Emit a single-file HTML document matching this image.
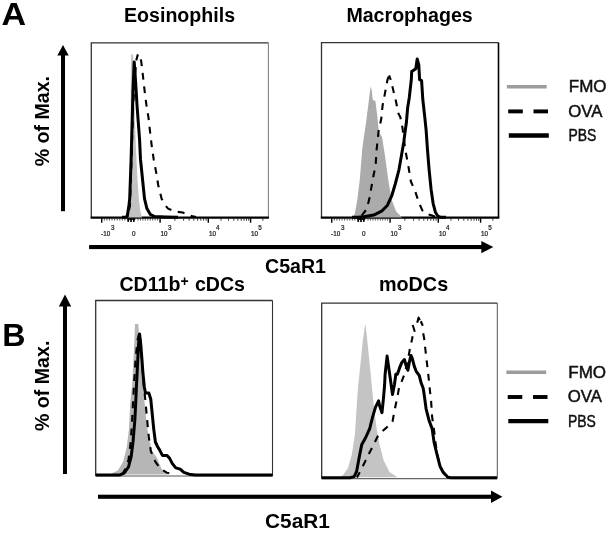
<!DOCTYPE html>
<html><head><meta charset="utf-8"><title>Figure</title>
<style>html,body{margin:0;padding:0;background:#fff;}svg{display:block;will-change:transform;filter:blur(0.4px);}</style></head>
<body>
<svg width="606" height="533" viewBox="0 0 606 533" font-family="Liberation Sans, sans-serif">
<rect width="606" height="533" fill="#fff"/>
<path d="M91.3,217.5 L91.3,42.8 L268.4,42.8" fill="none" stroke="#333" stroke-width="1.3"/><line x1="268.4" y1="42.8" x2="268.4" y2="217.5" stroke="#777" stroke-width="1.0"/>
<path d="M321.5,217.5 L321.5,42.6 L498.5,42.6" fill="none" stroke="#333" stroke-width="1.3"/><line x1="498.5" y1="42.6" x2="498.5" y2="217.5" stroke="#000" stroke-width="1.6"/>
<path d="M95.7,476 L95.7,300.5 L272.5,300.5" fill="none" stroke="#333" stroke-width="1.3"/><line x1="272.5" y1="300.5" x2="272.5" y2="476" stroke="#333" stroke-width="1.1"/>
<line x1="95.7" y1="476" x2="272.5" y2="476" stroke="#555" stroke-width="1.1"/>
<path d="M321.7,478.6 L321.7,303.2 L497.3,303.2" fill="none" stroke="#333" stroke-width="1.3"/><line x1="497.3" y1="303.2" x2="497.3" y2="478.6" stroke="#555" stroke-width="1.0"/>
<line x1="321.7" y1="478.6" x2="497.3" y2="478.6" stroke="#666" stroke-width="1.1"/>
<line x1="90.6" y1="217.65" x2="268.9" y2="217.65" stroke="#000" stroke-width="2.2"/><line x1="320.8" y1="217.65" x2="499.3" y2="217.65" stroke="#000" stroke-width="2.2"/>
<polygon points="127.5,217.5 129.5,205.0 130.5,180.0 130.8,140.0 130.7,100.0 130.9,70.0 131.2,54.5 133.0,54.5 133.2,60.0 133.5,80.0 134.5,110.0 136.0,150.0 137.5,180.0 139.0,200.0 140.5,212.0 142.0,217.5" fill="#c2c2c2"/>
<polyline points="128.0,217.0 130.0,205.0 131.5,160.0 133.0,110.0 135.0,75.0 136.5,59.4 137.9,54.4" fill="none" stroke="#000" stroke-width="2.1" stroke-dasharray="6.9 6.7" stroke-dashoffset="6.36" stroke-linejoin="round"/>
<polyline points="137.9,54.4 139.5,56.0 141.2,61.1 142.9,75.5 144.6,90.7 146.3,104.2 148.5,117.7 149.7,128.7 151.7,145.6 153.7,159.4 156.3,173.1 158.2,185.0 161.6,198.7 165.0,205.0 168.1,208.6 175.0,211.5 182.8,212.5 188.0,214.5 191.7,216.0 196.0,217.0" fill="none" stroke="#000" stroke-width="2.1" stroke-dasharray="6.9 6.7" stroke-dashoffset="7.78" stroke-linejoin="round"/>
<polyline points="122.0,217.3 125.5,217.2 127.3,216.0 129.0,205.0 129.7,198.7 131.1,159.4 132.2,120.0 133.0,90.0 134.2,62.0 135.5,80.0 137.0,105.0 138.1,120.0 139.6,140.0 140.5,159.4 142.5,179.0 144.5,198.7 146.9,208.6 150.2,214.3 154.5,216.5 166.0,216.9 178.0,217.3" fill="none" stroke="#000" stroke-width="3.0" stroke-linejoin="round"/>

<polygon points="352.9,217.5 354.9,213.2 357.4,199.3 359.8,179.5 362.2,149.8 363.4,139.9 365.7,125.2 367.7,109.4 369.7,93.6 370.7,86.6 371.7,90.0 372.7,99.5 374.0,100.5 375.4,101.0 376.3,108.0 377.2,115.3 378.6,129.2 379.5,133.0 382.0,137.0 385.0,155.7 388.2,179.5 391.5,199.3 396.0,211.2 402.0,217.5" fill="#ababab"/>
<polyline points="360.0,217.5 362.8,214.2 366.7,209.2 369.7,197.3 372.7,179.5 375.6,165.6 376.6,149.8 378.6,131.0 381.2,119.3 382.6,105.4 385.1,92.6 387.5,79.7 389.1,75.3" fill="none" stroke="#000" stroke-width="2.1" stroke-dasharray="6.9 6.7" stroke-dashoffset="11.14" stroke-linejoin="round"/>
<polyline points="389.1,75.3 391.1,80.7 393.1,89.6 396.0,101.5 398.4,113.4 400.4,117.3 402.5,128.0 404.0,140.0 405.3,149.8 408.3,165.6 410.9,181.5 415.2,191.4 419.2,203.3 422.2,210.2 427.1,214.2 432.1,215.5 436.0,217.0" fill="none" stroke="#000" stroke-width="2.1" stroke-dasharray="6.9 6.7" stroke-dashoffset="2.13" stroke-linejoin="round"/>
<polyline points="352.0,217.3 358.0,217.2 363.8,216.8 373.7,215.1 381.6,211.2 387.5,205.2 391.9,195.3 395.4,183.5 399.0,169.6 401.4,155.7 403.8,141.9 405.3,130.0 406.3,123.3 407.7,107.4 409.3,97.5 411.3,79.7 411.7,71.4 415.8,68.8 417.2,58.9 418.8,64.9 419.6,79.7 421.6,80.7 422.8,99.5 424.8,117.3 426.1,130.0 427.5,149.8 429.1,169.6 431.1,189.4 433.1,203.3 435.4,212.2 438.0,216.2 441.0,217.3 446.0,217.3" fill="none" stroke="#000" stroke-width="3.0" stroke-linejoin="round"/>

<polygon points="105.0,474.5 110.7,474.1 117.8,470.6 123.2,461.6 126.7,447.4 128.9,429.6 130.3,402.8 132.1,385.0 133.5,360.0 134.8,330.0 135.0,324.1 138.3,324.1 139.0,335.0 141.0,360.0 143.0,385.0 144.6,402.8 146.3,420.7 148.5,436.7 152.0,451.0 157.0,458.0 161.5,468.8 166.0,473.2 170.0,474.5" fill="#b6b6b6"/>
<polyline points="122.0,474.5 126.0,468.0 128.5,459.9 130.7,442.0 132.1,420.7 133.0,402.8 134.0,385.0 135.5,360.0 137.5,340.0 139.2,333.0 140.5,340.0 142.0,360.0 143.8,385.0 145.6,402.8 147.2,420.7 148.8,436.7 150.8,451.0 155.3,461.6 160.6,468.8 166.8,472.7 174.9,473.8" fill="none" stroke="#000" stroke-width="2.1" stroke-dasharray="6.9 6.7" stroke-dashoffset="0.00" stroke-linejoin="round"/>
<polyline points="95.7,474.9 120.0,474.9 124.1,473.2 128.5,467.0 131.2,456.3 133.0,442.0 134.8,420.7 135.7,402.8 136.5,385.0 137.5,365.0 138.5,345.0 139.6,333.9 140.8,345.0 142.0,360.0 142.8,371.3 144.3,387.0 145.5,393.0 148.8,393.0 150.8,399.3 152.0,411.7 153.8,429.6 155.4,442.0 157.5,446.5 159.7,450.1 162.4,455.4 166.8,455.4 169.5,458.1 172.2,463.4 175.8,467.9 180.2,469.1 183.8,472.3 189.1,474.2 195.0,474.9 272.5,474.9" fill="none" stroke="#000" stroke-width="3.0" stroke-linejoin="round"/>

<polygon points="340.0,477.2 343.0,475.1 347.9,468.2 351.9,454.3 354.9,434.5 356.8,404.8 358.2,385.0 358.8,380.2 360.8,360.4 362.8,340.6 365.3,323.2 366.7,334.7 368.7,354.5 370.7,374.3 371.7,385.0 373.7,404.8 376.6,428.6 379.6,444.4 383.6,460.2 389.5,472.1 397.4,477.2" fill="#c4c4c4"/>
<polyline points="357.0,477.5 359.8,472.1 364.8,462.2 369.7,452.3 374.7,442.4 378.6,434.5 386.5,427.6 392.5,421.6 394.5,410.7 397.4,396.9 399.0,388.0 401.4,382.2 404.4,374.3 407.0,364.0 408.9,354.5 410.3,346.6 412.0,339.5 412.6,336.3" fill="none" stroke="#000" stroke-width="2.1" stroke-dasharray="6.9 6.7" stroke-dashoffset="0.97" stroke-linejoin="round"/>
<polyline points="423.2,333.3 424.2,338.7 425.5,350.5 427.1,364.4 428.7,378.3 430.1,392.1 431.1,400.8 432.1,416.7 434.1,430.5 436.0,446.4 438.0,458.0 441.0,468.0 445.0,475.0" fill="none" stroke="#000" stroke-width="2.1" stroke-dasharray="6.9 6.7" stroke-dashoffset="0.00" stroke-linejoin="round"/>
<polyline points="412.7,325.0 414.8,331.8" fill="none" stroke="#000" stroke-width="2.1" stroke-linejoin="round"/>
<polyline points="417.2,322.8 418.6,317.6 419.8,320.3" fill="none" stroke="#000" stroke-width="2.1" stroke-linejoin="round"/>
<polyline points="420.8,321.3 422.8,325.8" fill="none" stroke="#000" stroke-width="2.1" stroke-linejoin="round"/>
<polyline points="321.5,477.7 350.0,477.7 354.2,476.6 356.6,471.5 357.6,466.0 359.8,454.3 361.8,444.4 365.7,437.5 369.7,428.6 372.7,416.7 375.6,406.8 378.6,400.8 379.6,405.8 382.0,412.7 383.6,396.9 384.6,385.0 385.1,374.3 387.1,356.1 389.1,370.3 391.1,384.2 392.5,394.5 394.5,384.2 395.8,374.3 397.4,374.3 399.4,368.4 401.8,362.4 404.4,359.5 406.3,366.4 407.9,370.3 409.3,362.4 410.9,355.5 412.3,358.5 414.3,366.4 416.2,371.3 419.2,375.3 421.2,383.0 423.2,388.2 424.2,394.9 426.1,408.8 429.1,420.6 432.1,428.6 434.1,442.4 437.0,454.3 440.0,466.2 443.0,472.1 447.9,477.3 451.0,477.7 497.0,477.7" fill="none" stroke="#000" stroke-width="3.0" stroke-linejoin="round"/>

<line x1="101.7" y1="218.3" x2="101.7" y2="222.7" stroke="#000" stroke-width="1.4"/>
<line x1="160.1" y1="218.3" x2="160.1" y2="222.7" stroke="#000" stroke-width="1.4"/>
<line x1="208.3" y1="218.3" x2="208.3" y2="222.7" stroke="#000" stroke-width="1.4"/>
<line x1="250.6" y1="218.3" x2="250.6" y2="222.7" stroke="#000" stroke-width="1.4"/>
<line x1="104.3" y1="218.3" x2="104.3" y2="220.5" stroke="#222" stroke-width="0.8"/>
<line x1="106.9" y1="218.3" x2="106.9" y2="220.5" stroke="#222" stroke-width="0.8"/>
<line x1="109.4" y1="218.3" x2="109.4" y2="220.5" stroke="#222" stroke-width="0.8"/>
<line x1="112.0" y1="218.3" x2="112.0" y2="220.5" stroke="#222" stroke-width="0.8"/>
<line x1="114.6" y1="218.3" x2="114.6" y2="220.5" stroke="#222" stroke-width="0.8"/>
<line x1="117.2" y1="218.3" x2="117.2" y2="220.5" stroke="#222" stroke-width="0.8"/>
<line x1="119.8" y1="218.3" x2="119.8" y2="220.5" stroke="#222" stroke-width="0.8"/>
<line x1="122.3" y1="218.3" x2="122.3" y2="220.5" stroke="#222" stroke-width="0.8"/>
<line x1="124.9" y1="218.3" x2="124.9" y2="220.5" stroke="#222" stroke-width="0.8"/>
<line x1="128.2" y1="218.3" x2="128.2" y2="221.9" stroke="#000" stroke-width="1.7"/>
<line x1="131.0" y1="218.3" x2="131.0" y2="221.9" stroke="#000" stroke-width="1.7"/>
<line x1="133.8" y1="218.3" x2="133.8" y2="221.9" stroke="#000" stroke-width="1.7"/>
<rect x="127.3" y="218.3" width="8" height="1.6" fill="#000"/>
<line x1="138.0" y1="218.3" x2="138.0" y2="220.5" stroke="#222" stroke-width="0.8"/>
<line x1="140.4" y1="218.3" x2="140.4" y2="220.5" stroke="#222" stroke-width="0.8"/>
<line x1="142.9" y1="218.3" x2="142.9" y2="220.5" stroke="#222" stroke-width="0.8"/>
<line x1="145.3" y1="218.3" x2="145.3" y2="220.5" stroke="#222" stroke-width="0.8"/>
<line x1="147.8" y1="218.3" x2="147.8" y2="220.5" stroke="#222" stroke-width="0.8"/>
<line x1="150.3" y1="218.3" x2="150.3" y2="220.5" stroke="#222" stroke-width="0.8"/>
<line x1="152.7" y1="218.3" x2="152.7" y2="220.5" stroke="#222" stroke-width="0.8"/>
<line x1="155.2" y1="218.3" x2="155.2" y2="220.5" stroke="#222" stroke-width="0.8"/>
<line x1="157.6" y1="218.3" x2="157.6" y2="220.5" stroke="#222" stroke-width="0.8"/>
<line x1="174.9" y1="218.3" x2="174.9" y2="220.7" stroke="#222" stroke-width="0.9"/>
<line x1="221.0" y1="218.3" x2="221.0" y2="220.7" stroke="#222" stroke-width="0.9"/>
<line x1="183.6" y1="218.3" x2="183.6" y2="220.7" stroke="#222" stroke-width="0.9"/>
<line x1="228.5" y1="218.3" x2="228.5" y2="220.7" stroke="#222" stroke-width="0.9"/>
<line x1="189.1" y1="218.3" x2="189.1" y2="220.7" stroke="#222" stroke-width="0.9"/>
<line x1="233.8" y1="218.3" x2="233.8" y2="220.7" stroke="#222" stroke-width="0.9"/>
<line x1="193.8" y1="218.3" x2="193.8" y2="220.7" stroke="#222" stroke-width="0.9"/>
<line x1="237.9" y1="218.3" x2="237.9" y2="220.7" stroke="#222" stroke-width="0.9"/>
<line x1="197.6" y1="218.3" x2="197.6" y2="220.7" stroke="#222" stroke-width="0.9"/>
<line x1="241.2" y1="218.3" x2="241.2" y2="220.7" stroke="#222" stroke-width="0.9"/>
<line x1="200.8" y1="218.3" x2="200.8" y2="220.7" stroke="#222" stroke-width="0.9"/>
<line x1="244.0" y1="218.3" x2="244.0" y2="220.7" stroke="#222" stroke-width="0.9"/>
<line x1="203.6" y1="218.3" x2="203.6" y2="220.7" stroke="#222" stroke-width="0.9"/>
<line x1="246.5" y1="218.3" x2="246.5" y2="220.7" stroke="#222" stroke-width="0.9"/>
<line x1="206.1" y1="218.3" x2="206.1" y2="220.7" stroke="#222" stroke-width="0.9"/>
<line x1="248.7" y1="218.3" x2="248.7" y2="220.7" stroke="#222" stroke-width="0.9"/>
<line x1="262.9" y1="218.3" x2="262.9" y2="220.7" stroke="#222" stroke-width="0.9"/>
<text x="101.1" y="235.6" font-size="6.3" fill="#1a1a1a" stroke="#1a1a1a" stroke-width="0.22">-10</text>
<text x="110.9" y="229.9" font-size="6.3" fill="#1a1a1a" stroke="#1a1a1a" stroke-width="0.22">3</text>
<text x="132.1" y="235.6" font-size="6.3" fill="#1a1a1a" stroke="#1a1a1a" stroke-width="0.22">0</text>
<text x="160.5" y="235.6" font-size="6.3" fill="#1a1a1a" stroke="#1a1a1a" stroke-width="0.22">10</text>
<text x="167.9" y="229.9" font-size="6.3" fill="#1a1a1a" stroke="#1a1a1a" stroke-width="0.22">3</text>
<text x="208.9" y="235.6" font-size="6.3" fill="#1a1a1a" stroke="#1a1a1a" stroke-width="0.22">10</text>
<text x="216.1" y="229.9" font-size="6.3" fill="#1a1a1a" stroke="#1a1a1a" stroke-width="0.22">4</text>
<text x="251.0" y="235.6" font-size="6.3" fill="#1a1a1a" stroke="#1a1a1a" stroke-width="0.22">10</text>
<text x="258.2" y="229.9" font-size="6.3" fill="#1a1a1a" stroke="#1a1a1a" stroke-width="0.22">5</text>
<line x1="331.7" y1="218.3" x2="331.7" y2="222.7" stroke="#000" stroke-width="1.4"/>
<line x1="390.1" y1="218.3" x2="390.1" y2="222.7" stroke="#000" stroke-width="1.4"/>
<line x1="438.3" y1="218.3" x2="438.3" y2="222.7" stroke="#000" stroke-width="1.4"/>
<line x1="480.6" y1="218.3" x2="480.6" y2="222.7" stroke="#000" stroke-width="1.4"/>
<line x1="334.3" y1="218.3" x2="334.3" y2="220.5" stroke="#222" stroke-width="0.8"/>
<line x1="336.9" y1="218.3" x2="336.9" y2="220.5" stroke="#222" stroke-width="0.8"/>
<line x1="339.4" y1="218.3" x2="339.4" y2="220.5" stroke="#222" stroke-width="0.8"/>
<line x1="342.0" y1="218.3" x2="342.0" y2="220.5" stroke="#222" stroke-width="0.8"/>
<line x1="344.6" y1="218.3" x2="344.6" y2="220.5" stroke="#222" stroke-width="0.8"/>
<line x1="347.2" y1="218.3" x2="347.2" y2="220.5" stroke="#222" stroke-width="0.8"/>
<line x1="349.8" y1="218.3" x2="349.8" y2="220.5" stroke="#222" stroke-width="0.8"/>
<line x1="352.3" y1="218.3" x2="352.3" y2="220.5" stroke="#222" stroke-width="0.8"/>
<line x1="354.9" y1="218.3" x2="354.9" y2="220.5" stroke="#222" stroke-width="0.8"/>
<line x1="358.2" y1="218.3" x2="358.2" y2="221.9" stroke="#000" stroke-width="1.7"/>
<line x1="361.0" y1="218.3" x2="361.0" y2="221.9" stroke="#000" stroke-width="1.7"/>
<line x1="363.8" y1="218.3" x2="363.8" y2="221.9" stroke="#000" stroke-width="1.7"/>
<rect x="357.3" y="218.3" width="8" height="1.6" fill="#000"/>
<line x1="368.0" y1="218.3" x2="368.0" y2="220.5" stroke="#222" stroke-width="0.8"/>
<line x1="370.4" y1="218.3" x2="370.4" y2="220.5" stroke="#222" stroke-width="0.8"/>
<line x1="372.9" y1="218.3" x2="372.9" y2="220.5" stroke="#222" stroke-width="0.8"/>
<line x1="375.3" y1="218.3" x2="375.3" y2="220.5" stroke="#222" stroke-width="0.8"/>
<line x1="377.8" y1="218.3" x2="377.8" y2="220.5" stroke="#222" stroke-width="0.8"/>
<line x1="380.3" y1="218.3" x2="380.3" y2="220.5" stroke="#222" stroke-width="0.8"/>
<line x1="382.7" y1="218.3" x2="382.7" y2="220.5" stroke="#222" stroke-width="0.8"/>
<line x1="385.2" y1="218.3" x2="385.2" y2="220.5" stroke="#222" stroke-width="0.8"/>
<line x1="387.6" y1="218.3" x2="387.6" y2="220.5" stroke="#222" stroke-width="0.8"/>
<line x1="404.9" y1="218.3" x2="404.9" y2="220.7" stroke="#222" stroke-width="0.9"/>
<line x1="451.0" y1="218.3" x2="451.0" y2="220.7" stroke="#222" stroke-width="0.9"/>
<line x1="413.6" y1="218.3" x2="413.6" y2="220.7" stroke="#222" stroke-width="0.9"/>
<line x1="458.5" y1="218.3" x2="458.5" y2="220.7" stroke="#222" stroke-width="0.9"/>
<line x1="419.1" y1="218.3" x2="419.1" y2="220.7" stroke="#222" stroke-width="0.9"/>
<line x1="463.8" y1="218.3" x2="463.8" y2="220.7" stroke="#222" stroke-width="0.9"/>
<line x1="423.8" y1="218.3" x2="423.8" y2="220.7" stroke="#222" stroke-width="0.9"/>
<line x1="467.9" y1="218.3" x2="467.9" y2="220.7" stroke="#222" stroke-width="0.9"/>
<line x1="427.6" y1="218.3" x2="427.6" y2="220.7" stroke="#222" stroke-width="0.9"/>
<line x1="471.2" y1="218.3" x2="471.2" y2="220.7" stroke="#222" stroke-width="0.9"/>
<line x1="430.8" y1="218.3" x2="430.8" y2="220.7" stroke="#222" stroke-width="0.9"/>
<line x1="474.0" y1="218.3" x2="474.0" y2="220.7" stroke="#222" stroke-width="0.9"/>
<line x1="433.6" y1="218.3" x2="433.6" y2="220.7" stroke="#222" stroke-width="0.9"/>
<line x1="476.5" y1="218.3" x2="476.5" y2="220.7" stroke="#222" stroke-width="0.9"/>
<line x1="436.1" y1="218.3" x2="436.1" y2="220.7" stroke="#222" stroke-width="0.9"/>
<line x1="478.7" y1="218.3" x2="478.7" y2="220.7" stroke="#222" stroke-width="0.9"/>
<line x1="492.9" y1="218.3" x2="492.9" y2="220.7" stroke="#222" stroke-width="0.9"/>
<text x="331.1" y="235.6" font-size="6.3" fill="#1a1a1a" stroke="#1a1a1a" stroke-width="0.22">-10</text>
<text x="340.9" y="229.9" font-size="6.3" fill="#1a1a1a" stroke="#1a1a1a" stroke-width="0.22">3</text>
<text x="362.1" y="235.6" font-size="6.3" fill="#1a1a1a" stroke="#1a1a1a" stroke-width="0.22">0</text>
<text x="390.5" y="235.6" font-size="6.3" fill="#1a1a1a" stroke="#1a1a1a" stroke-width="0.22">10</text>
<text x="397.9" y="229.9" font-size="6.3" fill="#1a1a1a" stroke="#1a1a1a" stroke-width="0.22">3</text>
<text x="438.9" y="235.6" font-size="6.3" fill="#1a1a1a" stroke="#1a1a1a" stroke-width="0.22">10</text>
<text x="446.1" y="229.9" font-size="6.3" fill="#1a1a1a" stroke="#1a1a1a" stroke-width="0.22">4</text>
<text x="481.0" y="235.6" font-size="6.3" fill="#1a1a1a" stroke="#1a1a1a" stroke-width="0.22">10</text>
<text x="488.2" y="229.9" font-size="6.3" fill="#1a1a1a" stroke="#1a1a1a" stroke-width="0.22">5</text>
<rect x="61" y="54" width="4" height="157.2" fill="#000"/><polygon points="63,45 57.3,55.5 68.7,55.5" fill="#000"/>
<rect x="63" y="305" width="4" height="169" fill="#000"/><polygon points="65,294.5 58.8,306.5 71.2,306.5" fill="#000"/>
<rect x="89.1" y="245.0" width="394" height="4.1" fill="#000"/><polygon points="493.3,247.1 481.3,241.1 481.3,253.2" fill="#000"/>
<rect x="98" y="494.7" width="394.5" height="4.1" fill="#000"/><polygon points="502.4,496.8 491,490.6 491,503" fill="#000"/>
<text x="1.6" y="25" font-size="32.2" font-weight="bold" textLength="24.6" lengthAdjust="spacingAndGlyphs">A</text>
<text x="2.3" y="346.3" font-size="32.2" font-weight="bold" >B</text>
<text x="124.0" y="21.8" font-size="19.6" font-weight="bold" >Eosinophils</text>
<text x="346.4" y="21.6" font-size="19.6" font-weight="bold" >Macrophages</text>
<text x="119.4" y="290.7" font-size="19.6" font-weight="bold" >CD11b<tspan font-size="14" dy="-5.2">+</tspan><tspan dy="5.2" dx="0.9"> cDCs</tspan></text>
<text x="378.9" y="290.7" font-size="19.8" font-weight="bold" >moDCs</text>
<text x="265" y="272.6" font-size="19.6" font-weight="bold" >C5aR1</text>
<text x="265.1" y="528" font-size="20.8" font-weight="bold" >C5aR1</text>
<text transform="translate(49.2,166.3) rotate(-90)" font-size="19.6" font-weight="bold">% of Max.</text>
<text transform="translate(49.3,431) rotate(-90)" font-size="19.6" font-weight="bold">% of Max.</text>
<line x1="506.9" y1="86.7" x2="546.7" y2="86.7" stroke="#9c9c9c" stroke-width="3.6"/><line x1="508.2" y1="111.4" x2="522.8" y2="111.4" stroke="#000" stroke-width="3.9"/><line x1="533.5" y1="111.4" x2="548.0" y2="111.4" stroke="#000" stroke-width="3.9"/><line x1="508.8" y1="135.5" x2="548.8" y2="135.5" stroke="#000" stroke-width="4.3"/><text x="568.8" y="91.60000000000001" font-size="15.9" textLength="37.8" fill="#111" stroke="#111" stroke-width="0.45" lengthAdjust="spacingAndGlyphs">FMO</text><text x="568.1999999999999" y="116.5" font-size="15.9" textLength="34.2" fill="#111" stroke="#111" stroke-width="0.45" lengthAdjust="spacingAndGlyphs">OVA</text><text x="568.4" y="140.8" font-size="15.9" textLength="27.9" fill="#111" stroke="#111" stroke-width="0.45" lengthAdjust="spacingAndGlyphs">PBS</text>
<line x1="506.4" y1="372.3" x2="546.2" y2="372.3" stroke="#9c9c9c" stroke-width="3.6"/><line x1="507.7" y1="397.0" x2="522.3" y2="397.0" stroke="#000" stroke-width="3.9"/><line x1="533.0" y1="397.0" x2="547.5" y2="397.0" stroke="#000" stroke-width="3.9"/><line x1="508.3" y1="421.1" x2="548.3" y2="421.1" stroke="#000" stroke-width="4.3"/><text x="568.3" y="377.5" font-size="15.9" textLength="37.8" fill="#111" stroke="#111" stroke-width="0.45" lengthAdjust="spacingAndGlyphs">FMO</text><text x="567.6999999999999" y="402.40000000000003" font-size="15.9" textLength="34.2" fill="#111" stroke="#111" stroke-width="0.45" lengthAdjust="spacingAndGlyphs">OVA</text><text x="567.9" y="426.70000000000005" font-size="15.9" textLength="27.9" fill="#111" stroke="#111" stroke-width="0.45" lengthAdjust="spacingAndGlyphs">PBS</text>
</svg>
</body></html>
